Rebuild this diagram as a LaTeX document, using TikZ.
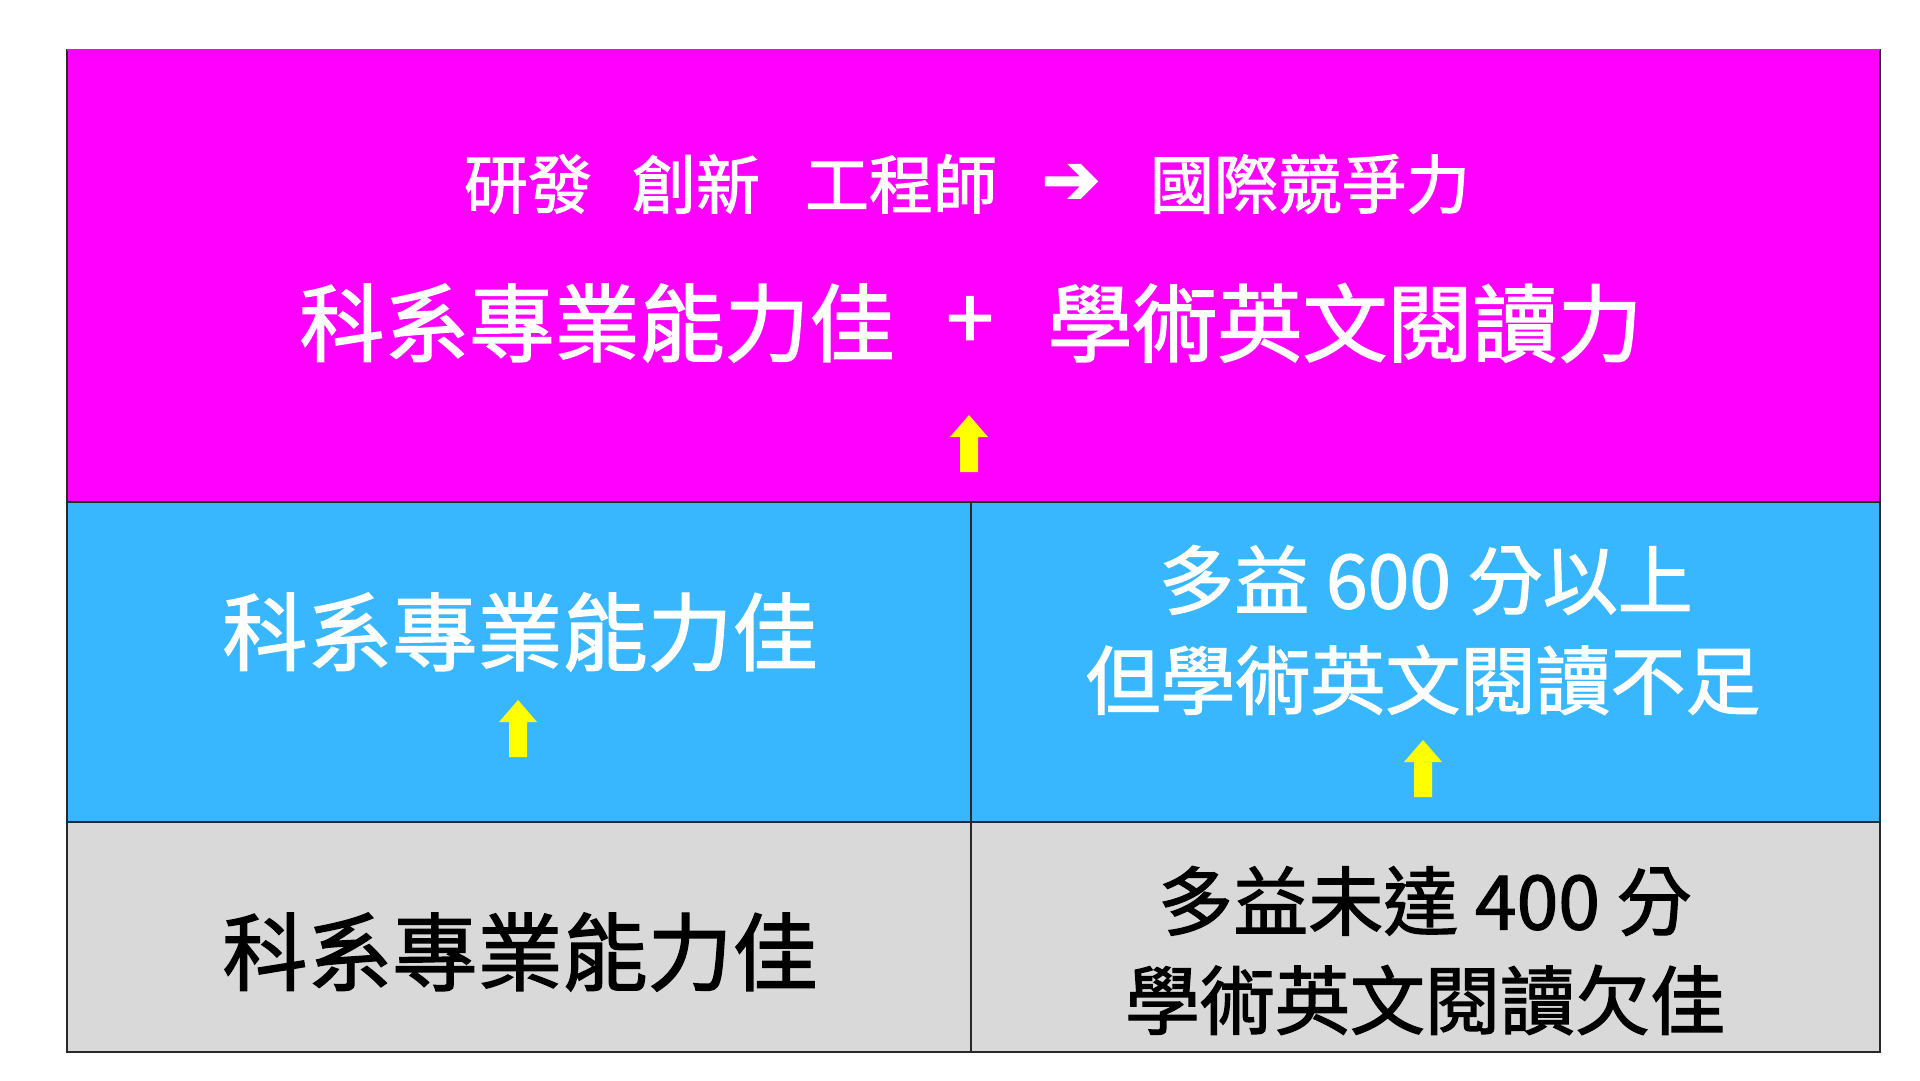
\documentclass[tikz,border=0pt]{standalone}
\usepackage{fontspec}
\setmainfont{Noto Sans CJK TC}[FakeBold=1.6]
\newfontfamily\dejavu{DejaVu Sans}[FakeBold=2.5]
\definecolor{magbg}{RGB}{255,0,255}
\definecolor{bluebg}{RGB}{56,183,255}
\definecolor{graybg}{RGB}{217,217,217}
\definecolor{edge}{RGB}{40,40,40}
\definecolor{yel}{RGB}{255,255,0}
\tikzset{
  cell/.style={draw=edge, line width=2.5pt},
  wtext/.style={inner sep=0pt, text=white, anchor=center},
  btext/.style={inner sep=0pt, text=black, anchor=center},
  fsA/.style={font=\fontsize{64}{70}\selectfont},
  fsB/.style={font=\fontsize{85}{95}\selectfont},
  fsC/.style={font=\fontsize{75}{85}\selectfont},
  uparrow/.pic={
    \fill[yel] (0,0) -- (19,22) -- (9,22) -- (9,57) -- (-9,57) -- (-9,22) -- (-19,22) -- cycle;
  }
}
\begin{document}
\begin{tikzpicture}[x=1pt,y=-1pt]
\useasboundingbox (0,0) rectangle (1920,1080);
\fill[white] (0,0) rectangle (1920,1080);
% cells
\path[cell, fill=magbg] (67,50) rectangle (1880,502);
\path[cell, fill=bluebg] (67,502) rectangle (971,822);
\path[cell, fill=bluebg] (971,502) rectangle (1880,822);
\path[cell, fill=graybg] (67,822) rectangle (971,1052);
\path[cell, fill=graybg] (971,822) rectangle (1880,1052);
\draw[magbg, line width=2.5pt] (67,50) -- (1880,50);
% top block
\node[wtext, fsA] (t1) at (528,184) {研發};
\node[wtext, fsA] (t2) at (696,184) {創新};
\node[wtext, fsA] (t3) at (901,184) {工程師};
\node[wtext, font=\dejavu\fontsize{70}{76}\selectfont] (t4) at (1071,184) {➔};
\node[wtext, fsA] (t5) at (1310,184) {國際競爭力};
\node[wtext, fsB] (m1) at (597,323) {科系專業能力佳};
\node[wtext, fsB] (m2) at (970,323) {+};
\node[wtext, fsB] (m3) at (1345,323) {學術英文閱讀力};
\pic at (969,415) {uparrow};
% blue row
\node[wtext, fsB] (bl) at (520,632) {科系專業能力佳};
\pic at (518,700) {uparrow};
\node[wtext, fsC] (br1) at (1426,580) {多益 600 分以上};
\node[wtext, fsC] (br2) at (1423,680) {但學術英文閱讀不足};
\pic at (1423,740) {uparrow};
% gray row
\node[btext, fsB] (gl) at (520,952) {科系專業能力佳};
\node[btext, fsC] (gr1) at (1425,901) {多益未達 400 分};
\node[btext, fsC] (gr2) at (1425,1000) {學術英文閱讀欠佳};
\end{tikzpicture}
\end{document}
